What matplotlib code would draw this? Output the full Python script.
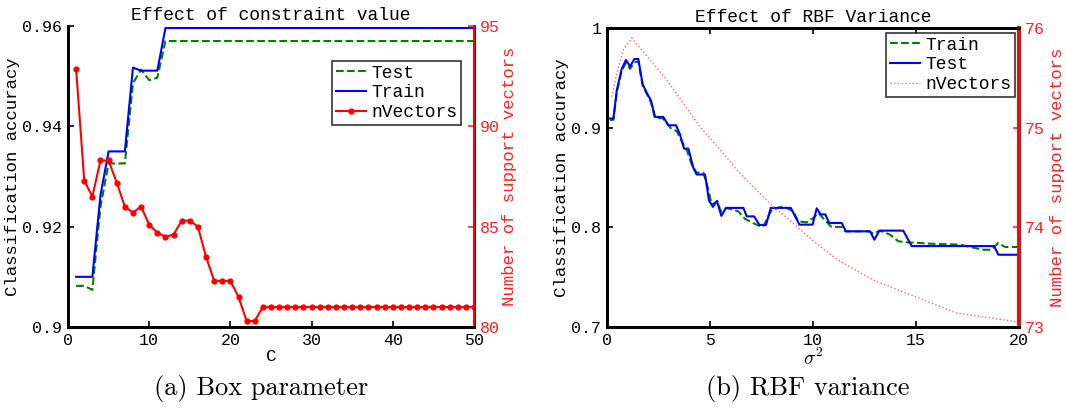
import matplotlib
matplotlib.use("Agg")
import matplotlib.pyplot as plt

MONO = "Liberation Mono"
SERIF = "cmr10"

# (a) box parameter sweep, C = 1..50
c_vals = list(range(1, 51))
box_train = [0.910, 0.910, 0.910, 0.9263, 0.935, 0.935, 0.935, 0.9517, 0.9511, 0.9511,
             0.9511, 0.9596, 0.9596, 0.9596, 0.9596, 0.9596, 0.9596, 0.9596, 0.9596, 0.9596,
             0.9596, 0.9596, 0.9596, 0.9596, 0.9596, 0.9596, 0.9596, 0.9596, 0.9596, 0.9596,
             0.9596, 0.9596, 0.9596, 0.9596, 0.9596, 0.9596, 0.9596, 0.9596, 0.9596, 0.9596,
             0.9596, 0.9596, 0.9596, 0.9596, 0.9596, 0.9596, 0.9596, 0.9596, 0.9596, 0.9596]
box_test = [0.9082, 0.9082, 0.9074, 0.924, 0.9326, 0.9326, 0.9326, 0.9486, 0.9513, 0.9492,
            0.9497, 0.957, 0.957, 0.957, 0.957, 0.957, 0.957, 0.957, 0.957, 0.957,
            0.957, 0.957, 0.957, 0.957, 0.957, 0.957, 0.957, 0.957, 0.957, 0.957,
            0.957, 0.957, 0.957, 0.957, 0.957, 0.957, 0.957, 0.957, 0.957, 0.957,
            0.957, 0.957, 0.957, 0.957, 0.957, 0.957, 0.957, 0.957, 0.957, 0.957]
box_nvec = [92.84, 87.3, 86.5, 88.3, 88.3, 87.2, 86.0, 85.7, 86.0, 85.1,
            84.7, 84.5, 84.6, 85.3, 85.3, 85.0, 83.5, 82.3, 82.3, 82.3,
            81.5, 80.3, 80.3, 81.0, 81.0, 81.0, 81.0, 81.0, 81.0, 81.0,
            81.0, 81.0, 81.0, 81.0, 81.0, 81.0, 81.0, 81.0, 81.0, 81.0,
            81.0, 81.0, 81.0, 81.0, 81.0, 81.0, 81.0, 81.0, 81.0, 81.0]

# (b) RBF variance sweep (vertices)
rbf_test_x = [0.15, 0.31, 0.47, 0.71, 0.92, 1.12, 1.33, 1.52, 1.73, 1.93, 2.14, 2.33,
              2.73, 2.98, 3.35, 3.54, 3.74, 3.95, 4.19, 4.35, 4.76, 4.95, 5.14, 5.34,
              5.55, 5.78, 6.62, 6.78, 7.14, 7.40, 7.72, 7.95, 8.92, 9.34, 9.98, 10.18,
              10.37, 10.60, 10.78, 11.39, 11.60, 12.77, 12.98, 13.22, 14.38, 14.79,
              18.79, 19.00, 20.0]
rbf_test = [0.9092, 0.909, 0.937, 0.9588, 0.9679, 0.9615, 0.9689, 0.9689, 0.9437, 0.935,
            0.927, 0.9108, 0.9108, 0.9024, 0.9024, 0.8934, 0.879, 0.879, 0.8598, 0.853,
            0.853, 0.827, 0.8205, 0.8265, 0.8115, 0.8195, 0.8195, 0.811, 0.811, 0.8024,
            0.8024, 0.8195, 0.8195, 0.8027, 0.8027, 0.8191, 0.813, 0.813, 0.8044, 0.8044,
            0.796, 0.796, 0.7876, 0.7967, 0.7967, 0.7812, 0.7812, 0.7725, 0.7725]
rbf_train_x = [0.15, 0.31, 0.47, 0.71, 0.92, 1.12, 1.33, 1.52, 1.73, 1.93, 2.14, 2.33,
               2.70, 2.90, 3.14, 3.38, 3.62, 3.89, 4.11, 4.35, 4.68, 4.92, 5.08, 5.36,
               5.52, 5.81, 6.37, 6.70, 7.35, 7.59, 7.83, 8.00, 8.56, 9.04, 9.29, 9.69,
               10.02, 10.26, 10.55, 10.90, 11.39, 11.55, 12.69, 12.93, 13.25, 13.74,
               14.14, 14.55, 15.19, 15.68, 17.14, 17.62, 18.27, 18.65, 19.00, 19.32,
               19.65, 20.0]
rbf_train = [0.9078, 0.9078, 0.935, 0.957, 0.965, 0.959, 0.9655, 0.9665, 0.942, 0.934,
             0.925, 0.9095, 0.9095, 0.9044, 0.8984, 0.8967, 0.8866, 0.8765, 0.8631, 0.8548,
             0.8548, 0.838, 0.8229, 0.826, 0.816, 0.8195, 0.816, 0.8085, 0.8017, 0.801,
             0.811, 0.8178, 0.8211, 0.816, 0.806, 0.805, 0.8095, 0.8145, 0.8078, 0.8004,
             0.8004, 0.796, 0.796, 0.7937, 0.7967, 0.7926, 0.786, 0.785, 0.7843, 0.7836,
             0.7826, 0.7803, 0.7775, 0.7775, 0.7843, 0.7803, 0.7803, 0.7803]
rbf_nvec_x = [0.23, 0.47, 0.79, 1.2, 2.9, 4.51, 5.49, 6.37, 8.0, 8.88, 9.85, 11.15,
              12.93, 16.97, 20.0]
rbf_nvec = [75.31, 75.54, 75.78, 75.90, 75.48, 75.01, 74.78, 74.56, 74.22, 74.07,
            73.89, 73.68, 73.47, 73.14, 73.05]

plt.rcParams["font.family"] = MONO
plt.rcParams["mathtext.fontset"] = "cm"

fig = plt.figure(figsize=(10.66, 4.09), dpi=100)
W, H = 1066.0, 409.0


def style_axis(ax, lw=2.0):
    ax.tick_params(direction="in", length=4, width=1.2, labelsize=12, pad=4)
    for s in ax.spines.values():
        s.set_linewidth(lw)


def add_legend(ax_main, ax_twin, x0, y0):
    h1, l1 = ax_main.get_legend_handles_labels()
    h2, l2 = ax_twin.get_legend_handles_labels()
    leg = ax_twin.legend(h1 + h2, l1 + l2, loc="upper left",
                         bbox_to_anchor=(x0 / W, (H - y0) / H),
                         bbox_transform=fig.transFigure, fontsize=13, frameon=True,
                         fancybox=False, edgecolor="black", borderpad=0.2,
                         handlelength=1.7, handletextpad=0.3, labelspacing=0.15,
                         borderaxespad=0)
    leg.get_frame().set_linewidth(1.2)
    return leg


# ---- (a) ----
ax1 = fig.add_axes([68 / W, (H - 327) / H, 406 / W, 301 / H])
axr1 = ax1.twinx()
ax1.plot(c_vals, box_test, "--", color="#008000", lw=1.5, label="Test")
ax1.plot(c_vals, box_train, "-", color="#0000ff", lw=1.5, label="Train")
axr1.plot(c_vals, box_nvec, "-o", color="#ff0000", lw=1.5, ms=3.5, label="nVectors")
ax1.set_xlim(0, 50)
ax1.set_ylim(0.9, 0.96)
ax1.set_xticks([0, 10, 20, 30, 40, 50])
ax1.set_yticks([0.9, 0.92, 0.94, 0.96])
ax1.set_yticklabels(["0.9", "0.92", "0.94", "0.96"])
axr1.set_ylim(80, 95)
axr1.set_yticks([80, 85, 90, 95])
style_axis(ax1)
style_axis(axr1)
for a in (ax1, axr1):
    a.spines["top"].set_visible(False)
axr1.spines["right"].set_color("#ff0000")
axr1.spines["right"].set_linewidth(1.5)
axr1.tick_params(axis="y", colors="#ff2020")
ax1.set_ylabel("Classification accuracy", fontsize=12.5, labelpad=2)
axr1.set_ylabel("Number of support vectors", fontsize=12.5, color="#ff2020", labelpad=2)
ax1.set_xlabel("C", fontsize=12.5, labelpad=1)
ax1.set_title("Effect of constraint value", fontsize=13, pad=4)
add_legend(ax1, axr1, 332, 61)

# ---- (b) ----
ax2 = fig.add_axes([607 / W, (H - 327) / H, 412 / W, 299 / H])
axr2 = ax2.twinx()
ax2.plot(rbf_train_x, rbf_train, "--", color="#008000", lw=1.5, label="Train")
ax2.plot(rbf_test_x, rbf_test, "-", color="#0000ff", lw=1.5, label="Test")
axr2.plot(rbf_nvec_x, rbf_nvec, ":", color="#ff6060", lw=1.0, label="nVectors")
ax2.set_xlim(0, 20)
ax2.set_ylim(0.7, 1.0)
ax2.set_xticks([0, 5, 10, 15, 20])
ax2.set_yticks([0.7, 0.8, 0.9, 1.0])
ax2.set_yticklabels(["0.7", "0.8", "0.9", "1"])
axr2.set_ylim(73, 76)
axr2.set_yticks([73, 74, 75, 76])
style_axis(ax2)
style_axis(axr2)
ax2.tick_params(top=True)
axr2.spines["right"].set_color("#cc1a1a")
axr2.spines["right"].set_linewidth(3)
axr2.tick_params(axis="y", colors="#ff2020")
ax2.set_ylabel("Classification accuracy", fontsize=12.5, labelpad=2)
axr2.set_ylabel("Number of support vectors", fontsize=12.5, color="#ff2020", labelpad=4)
ax2.set_xlabel(r"$\sigma^2$", fontsize=14, labelpad=0)
ax2.set_title("Effect of RBF Variance", fontsize=13, pad=4)
add_legend(ax2, axr2, 886, 33)

# captions
fig.text(261 / W, 1 - 388 / H, "(a) Box parameter", family=SERIF, fontsize=19,
         ha="center", va="center")
fig.text(808 / W, 1 - 388 / H, "(b) RBF variance", family=SERIF, fontsize=19,
         ha="center", va="center")

fig.savefig("out.png", dpi=100)
